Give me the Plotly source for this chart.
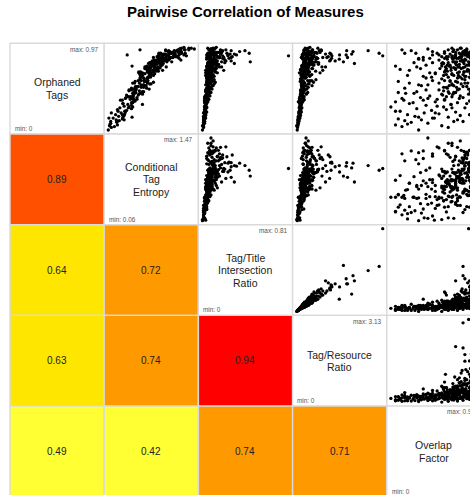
import plotly.graph_objects as go

# ---------------- data ----------------
measures = ["Orphaned Tags", "Conditional Tag Entropy", "Tag/Title Intersection Ratio",
            "Tag/Resource Ratio", "Overlap Factor"]
label_lines = [["Orphaned", "Tags"], ["Conditional", "Tag", "Entropy"],
               ["Tag/Title", "Intersection", "Ratio"], ["Tag/Resource", "Ratio"],
               ["Overlap", "Factor"]]
min_labels = ["0", "0.06", "0", "0", "0"]
max_labels = ["0.97", "1.47", "0.81", "3.13", "0.93"]
var_min = [0.0, 0.06, 0.0, 0.0, 0.0]
var_max = [0.97, 1.47, 0.81, 3.13, 0.93]

corr_row2 = [0.89]
corr_row3 = [0.64, 0.72]
corr_row4 = [0.63, 0.74, 0.94]
corr_row5 = [0.49, 0.42, 0.74, 0.71]

orphaned_tags = [
    0.00, 0.04, 0.05, 0.06, 0.08, 0.09, 0.10, 0.11, 0.12, 0.13,
    0.14, 0.15, 0.16, 0.17, 0.18, 0.19, 0.20, 0.21, 0.22, 0.23,
    0.24, 0.25, 0.26, 0.27, 0.28, 0.30, 0.31, 0.32, 0.33, 0.34,
    0.35, 0.36, 0.37, 0.38, 0.39, 0.40, 0.41, 0.42, 0.43, 0.44,
    0.45, 0.46, 0.47, 0.48, 0.49, 0.50, 0.51, 0.52, 0.53, 0.54,
    0.55, 0.56, 0.57, 0.58, 0.59, 0.33, 0.38, 0.44, 0.50, 0.56,
    0.36, 0.42, 0.48, 0.53, 0.58, 0.60, 0.61, 0.62, 0.62, 0.63,
    0.64, 0.65, 0.65, 0.66, 0.67, 0.68, 0.68, 0.69, 0.70, 0.70,
    0.71, 0.72, 0.72, 0.73, 0.74, 0.74, 0.75, 0.76, 0.76, 0.77,
    0.78, 0.78, 0.79, 0.80, 0.80, 0.81, 0.82, 0.82, 0.83, 0.84,
    0.84, 0.85, 0.86, 0.86, 0.87, 0.87, 0.88, 0.88, 0.89, 0.90,
    0.90, 0.91, 0.92, 0.92, 0.93, 0.94, 0.95, 0.96, 0.97, 0.95,
    0.64, 0.71, 0.79, 0.85, 0.90, 0.67, 0.75, 0.83, 0.93, 0.61,
    0.63, 0.66, 0.69, 0.71, 0.73, 0.75, 0.77, 0.79, 0.81, 0.83,
    0.85, 0.87, 0.89, 0.91, 0.68, 0.72, 0.76, 0.80, 0.84, 0.88,
    0.87, 0.80, 0.90, 0.93, 0.78, 0.85, 0.82, 0.90, 0.86, 0.70,
    0.88, 0.94, 0.75, 0.15, 0.30, 0.83, 0.89, 0.62, 0.64, 0.66,
    0.68, 0.70, 0.72, 0.74, 0.76, 0.78, 0.80, 0.82, 0.84, 0.86,
    0.88, 0.90, 0.92, 0.94, 0.96, 0.57, 0.55, 0.53, 0.51, 0.49,
    0.47, 0.45, 0.43, 0.41, 0.39, 0.37, 0.35, 0.26, 0.20, 0.12,
    0.58, 0.63, 0.67, 0.71, 0.74, 0.78, 0.81, 0.85, 0.89, 0.93,
    0.60, 0.65, 0.69, 0.72, 0.76, 0.79, 0.83, 0.86, 0.90, 0.94,
    0.61, 0.64, 0.68, 0.73, 0.77, 0.80, 0.84, 0.87, 0.91, 0.95,
    0.40, 0.44, 0.48, 0.52, 0.55, 0.58, 0.46, 0.50, 0.42, 0.54,
    0.03, 0.07, 0.10, 0.14, 0.18, 0.22, 0.27, 0.31, 0.35, 0.29,
    0.66, 0.72, 0.78, 0.84, 0.90, 0.70, 0.76, 0.82, 0.88, 0.94,
    0.74, 0.79, 0.83, 0.87, 0.91, 0.76, 0.81, 0.85, 0.89, 0.72,
    0.88, 0.92, 0.86, 0.94, 0.80, 0.90, 0.84, 0.96, 0.91, 0.87,
    0.32, 0.37, 0.43, 0.47, 0.52, 0.57, 0.62, 0.45, 0.39, 0.55,
    0.64, 0.69, 0.73, 0.77, 0.81, 0.85, 0.89, 0.93, 0.79, 0.83,
]
tag_entropy = [
    0.06, 0.16, 0.08, 0.21, 0.10, 0.20, 0.10, 0.24, 0.19, 0.29,
    0.07, 0.30, 0.23, 0.32, 0.18, 0.33, 0.11, 0.34, 0.33, 0.36,
    0.21, 0.44, 0.25, 0.46, 0.32, 0.38, 0.30, 0.44, 0.47, 0.50,
    0.26, 0.53, 0.46, 0.53, 0.46, 0.47, 0.36, 0.62, 0.46, 0.62,
    0.48, 0.57, 0.51, 0.73, 0.44, 0.60, 0.51, 0.60, 0.60, 0.76,
    0.46, 0.70, 0.65, 0.71, 0.58, 0.46, 0.35, 0.51, 0.64, 0.80,
    0.42, 0.48, 0.49, 0.64, 0.65, 0.65, 0.58, 0.72, 0.75, 0.74,
    0.62, 0.76, 0.74, 0.82, 0.56, 0.79, 0.59, 0.88, 0.74, 0.79,
    0.70, 0.85, 0.82, 0.91, 0.66, 0.87, 0.69, 0.94, 0.78, 0.93,
    0.82, 0.94, 0.76, 1.02, 0.88, 0.90, 0.81, 1.05, 0.89, 1.06,
    0.92, 1.00, 0.94, 1.18, 0.88, 1.13, 0.89, 0.99, 1.14, 1.15,
    0.89, 1.26, 1.04, 1.25, 1.05, 1.31, 1.23, 1.38, 1.30, 1.47,
    0.59, 0.83, 0.81, 1.12, 1.08, 0.76, 0.75, 1.03, 1.25, 0.70,
    0.60, 0.73, 0.73, 0.84, 0.75, 0.79, 0.78, 0.90, 0.94, 1.01,
    0.94, 1.05, 1.05, 1.15, 0.73, 0.71, 0.82, 0.88, 0.88, 1.22,
    0.95, 0.82, 0.92, 1.00, 0.72, 0.80, 1.25, 1.32, 1.20, 0.95,
    0.37, 0.58, 0.45, 0.45, 0.62, 1.00, 0.96, 0.71, 0.61, 0.76,
    0.56, 0.87, 0.69, 1.01, 0.76, 0.82, 0.86, 0.94, 0.93, 1.18,
    0.89, 1.24, 1.07, 1.32, 1.26, 0.67, 0.49, 0.64, 0.55, 0.69,
    0.40, 0.62, 0.47, 0.55, 0.39, 0.47, 0.29, 0.39, 0.27, 0.32,
    0.55, 0.74, 0.62, 0.86, 0.72, 0.96, 0.78, 1.10, 0.92, 1.18,
    0.70, 0.58, 0.84, 0.66, 0.92, 0.74, 1.06, 0.86, 1.22, 1.00,
    0.64, 0.80, 0.70, 0.76, 0.86, 0.82, 0.90, 1.02, 1.08, 1.24,
    0.46, 0.62, 0.52, 0.68, 0.57, 0.60, 0.40, 0.50, 0.56, 0.74,
    0.11, 0.09, 0.20, 0.14, 0.29, 0.22, 0.40, 0.30, 0.49, 0.44,
    0.66, 0.88, 0.78, 0.96, 1.10, 0.70, 0.92, 0.84, 1.16, 1.20,
    0.82, 0.94, 0.88, 1.04, 1.12, 0.80, 0.98, 0.90, 1.00, 0.75,
    1.30, 1.20, 1.16, 1.38, 1.10, 1.26, 1.22, 1.42, 1.12, 1.34,
    0.46, 0.34, 0.58, 0.44, 0.66, 0.50, 0.60, 0.64, 0.42, 0.70,
    0.60, 0.80, 0.74, 0.94, 0.84, 1.08, 0.98, 1.14, 0.76, 1.02,
]
title_ratio = [
    0.00, 0.01, 0.00, 0.01, 0.02, 0.01, 0.02, 0.01, 0.02, 0.02,
    0.03, 0.02, 0.01, 0.03, 0.02, 0.03, 0.02, 0.04, 0.02, 0.03,
    0.02, 0.03, 0.04, 0.03, 0.02, 0.03, 0.04, 0.02, 0.05, 0.03,
    0.04, 0.06, 0.03, 0.05, 0.04, 0.07, 0.03, 0.06, 0.05, 0.08,
    0.04, 0.06, 0.05, 0.09, 0.04, 0.07, 0.05, 0.10, 0.06, 0.08,
    0.05, 0.07, 0.09, 0.06, 0.11, 0.02, 0.03, 0.04, 0.06, 0.12,
    0.05, 0.04, 0.07, 0.05, 0.08, 0.05, 0.07, 0.04, 0.09, 0.06,
    0.08, 0.05, 0.10, 0.07, 0.04, 0.09, 0.06, 0.12, 0.05, 0.08,
    0.07, 0.11, 0.06, 0.09, 0.04, 0.13, 0.07, 0.10, 0.05, 0.15,
    0.08, 0.12, 0.06, 0.18, 0.09, 0.14, 0.07, 0.21, 0.10, 0.25,
    0.08, 0.16, 0.11, 0.28, 0.06, 0.19, 0.13, 0.32, 0.09, 0.23,
    0.12, 0.15, 0.35, 0.10, 0.27, 0.17, 0.08, 0.05, 0.13, 0.08,
    0.03, 0.04, 0.05, 0.04, 0.06, 0.03, 0.05, 0.04, 0.07, 0.04,
    0.05, 0.06, 0.04, 0.07, 0.05, 0.08, 0.06, 0.09, 0.07, 0.10,
    0.06, 0.11, 0.08, 0.14, 0.06, 0.05, 0.07, 0.11, 0.08, 0.10,
    0.81, 0.45, 0.44, 0.40, 0.30, 0.27, 0.12, 0.10, 0.16, 0.20,
    0.05, 0.07, 0.04, 0.02, 0.03, 0.12, 0.17, 0.06, 0.04, 0.08,
    0.05, 0.09, 0.06, 0.10, 0.07, 0.13, 0.06, 0.09, 0.20, 0.07,
    0.24, 0.11, 0.09, 0.22, 0.12, 0.04, 0.06, 0.03, 0.05, 0.04,
    0.06, 0.03, 0.05, 0.04, 0.02, 0.03, 0.02, 0.02, 0.01, 0.01,
    0.07, 0.11, 0.14, 0.09, 0.18, 0.12, 0.22, 0.16, 0.26, 0.19,
    0.04, 0.08, 0.06, 0.13, 0.05, 0.10, 0.08, 0.14, 0.07, 0.11,
    0.09, 0.05, 0.12, 0.07, 0.15, 0.09, 0.19, 0.06, 0.13, 0.10,
    0.04, 0.07, 0.05, 0.09, 0.06, 0.10, 0.03, 0.08, 0.05, 0.11,
    0.01, 0.01, 0.02, 0.01, 0.03, 0.02, 0.04, 0.03, 0.05, 0.03,
    0.04, 0.06, 0.05, 0.07, 0.05, 0.03, 0.06, 0.08, 0.04, 0.06,
    0.16, 0.21, 0.12, 0.24, 0.18, 0.14, 0.27, 0.20, 0.30, 0.11,
    0.06, 0.09, 0.14, 0.08, 0.11, 0.07, 0.05, 0.10, 0.18, 0.08,
    0.03, 0.02, 0.04, 0.03, 0.05, 0.04, 0.06, 0.05, 0.03, 0.04,
    0.06, 0.09, 0.07, 0.12, 0.08, 0.15, 0.10, 0.17, 0.13, 0.09,
]
resource_ratio = [
    0.02, 0.03, 0.00, 0.05, 0.06, 0.04, 0.08, 0.05, 0.09, 0.07,
    0.12, 0.10, 0.06, 0.14, 0.09, 0.13, 0.11, 0.17, 0.10, 0.15,
    0.12, 0.16, 0.19, 0.14, 0.11, 0.15, 0.18, 0.11, 0.22, 0.17,
    0.26, 0.20, 0.16, 0.21, 0.27, 0.22, 0.16, 0.35, 0.18, 0.40,
    0.27, 0.23, 0.28, 0.34, 0.25, 0.23, 0.26, 0.56, 0.23, 0.41,
    0.29, 0.26, 0.47, 0.23, 0.70, 0.06, 0.13, 0.21, 0.20, 0.61,
    0.27, 0.14, 0.37, 0.17, 0.55, 0.17, 0.30, 0.23, 0.34, 0.31,
    0.47, 0.17, 0.55, 0.28, 0.27, 0.28, 0.26, 0.69, 0.18, 0.42,
    0.40, 0.39, 0.31, 0.37, 0.28, 0.42, 0.34, 0.59, 0.20, 0.79,
    0.48, 0.44, 0.33, 0.72, 0.57, 0.46, 0.32, 1.23, 0.39, 1.27,
    0.47, 0.59, 0.60, 1.15, 0.42, 0.63, 0.62, 1.80, 0.35, 1.21,
    0.74, 0.53, 2.05, 0.40, 1.82, 0.56, 0.40, 0.31, 0.48, 0.34,
    0.20, 0.14, 0.25, 0.17, 0.36, 0.10, 0.21, 0.23, 0.26, 0.19,
    0.30, 0.22, 0.24, 0.30, 0.36, 0.27, 0.28, 0.56, 0.26, 0.56,
    0.38, 0.40, 0.44, 0.56, 0.43, 0.17, 0.36, 0.68, 0.32, 0.51,
    3.13, 1.70, 3.00, 2.60, 2.10, 1.85, 0.50, 0.42, 0.55, 0.95,
    0.20, 0.30, 0.18, 0.08, 0.12, 1.55, 2.00, 0.34, 0.16, 0.39,
    0.31, 0.33, 0.32, 0.39, 0.46, 0.44, 0.29, 0.54, 0.76, 0.37,
    1.56, 0.38, 0.48, 0.89, 0.77, 0.13, 0.28, 0.20, 0.18, 0.20,
    0.26, 0.15, 0.22, 0.17, 0.12, 0.14, 0.10, 0.09, 0.07, 0.04,
    0.40, 0.48, 0.85, 0.38, 1.05, 0.55, 1.20, 0.95, 1.25, 0.82,
    0.14, 0.42, 0.22, 0.55, 0.28, 0.36, 0.48, 0.62, 0.26, 0.58,
    0.32, 0.30, 0.47, 0.42, 0.62, 0.52, 0.76, 0.24, 0.70, 0.38,
    0.22, 0.25, 0.30, 0.34, 0.20, 0.48, 0.15, 0.42, 0.18, 0.45,
    0.03, 0.05, 0.07, 0.05, 0.10, 0.09, 0.15, 0.13, 0.19, 0.16,
    0.18, 0.22, 0.26, 0.30, 0.24, 0.15, 0.29, 0.33, 0.21, 0.27,
    0.92, 0.80, 0.70, 1.28, 0.65, 0.62, 1.40, 1.10, 1.05, 0.58,
    0.24, 0.44, 0.60, 0.32, 0.50, 0.30, 0.22, 0.42, 0.85, 0.36,
    0.11, 0.10, 0.15, 0.14, 0.20, 0.19, 0.25, 0.22, 0.13, 0.17,
    0.21, 0.40, 0.36, 0.45, 0.47, 0.72, 0.38, 0.90, 0.52, 0.49,
]
overlap_factor = [
    0.30, 0.12, 0.55, 0.05, 0.40, 0.22, 0.68, 0.15, 0.33, 0.08,
    0.47, 0.62, 0.26, 0.75, 0.18, 0.52, 0.36, 0.70, 0.10, 0.44,
    0.60, 0.28, 0.80, 0.00, 0.50, 0.65, 0.20, 0.72, 0.48, 0.85,
    0.35, 0.58, 0.12, 0.78, 0.66, 0.42, 0.88, 0.55, 0.25, 0.70,
    0.62, 0.90, 0.38, 0.74, 0.15, 0.57, 0.82, 0.68, 0.30, 0.76,
    0.52, 0.87, 0.64, 0.45, 0.80, 0.05, 0.32, 0.08, 0.60, 0.72,
    0.50, 0.67, 0.84, 0.40, 0.58, 0.55, 0.72, 0.62, 0.85, 0.35,
    0.68, 0.78, 0.60, 0.90, 0.48, 0.74, 0.58, 0.82, 0.65, 0.88,
    0.70, 0.76, 0.53, 0.92, 0.28, 0.80, 0.63, 0.86, 0.71, 0.90,
    0.57, 0.79, 0.45, 0.84, 0.67, 0.75, 0.88, 0.81, 0.61, 0.86,
    0.73, 0.92, 0.55, 0.83, 0.69, 0.77, 0.89, 0.80, 0.64, 0.91,
    0.74, 0.85, 0.78, 0.58, 0.87, 0.72, 0.82, 0.66, 0.93, 0.40,
    0.18, 0.10, 0.25, 0.35, 0.15, 0.42, 0.05, 0.30, 0.22, 0.38,
    0.80, 0.86, 0.61, 0.83, 0.68, 0.89, 0.74, 0.56, 0.79, 0.90,
    0.66, 0.84, 0.76, 0.70, 0.92, 0.60, 0.64, 0.87, 0.71, 0.81,
    0.84, 0.93, 0.78, 0.88, 0.70, 0.93, 0.35, 0.50, 0.60, 0.86,
    0.70, 0.82, 0.55, 0.30, 0.65, 0.80, 0.90, 0.75, 0.57, 0.66,
    0.79, 0.59, 0.87, 0.73, 0.61, 0.91, 0.69, 0.77, 0.88, 0.62,
    0.85, 0.79, 0.67, 0.90, 0.76, 0.70, 0.83, 0.66, 0.78, 0.61,
    0.72, 0.86, 0.63, 0.56, 0.92, 0.74, 0.58, 0.66, 0.48, 0.72,
    0.64, 0.81, 0.72, 0.88, 0.59, 0.85, 0.77, 0.69, 0.91, 0.80,
    0.77, 0.66, 0.93, 0.70, 0.84, 0.62, 0.90, 0.75, 0.83, 0.68,
    0.86, 0.73, 0.79, 0.65, 0.92, 0.71, 0.58, 0.87, 0.78, 0.89,
    0.75, 0.68, 0.89, 0.63, 0.80, 0.92, 0.57, 0.71, 0.84, 0.66,
    0.62, 0.18, 0.78, 0.45, 0.85, 0.05, 0.57, 0.82, 0.14, 0.38,
    0.48, 0.32, 0.55, 0.42, 0.27, 0.20, 0.38, 0.52, 0.45, 0.12,
    0.74, 0.86, 0.67, 0.90, 0.79, 0.82, 0.88, 0.76, 0.85, 0.70,
    0.52, 0.45, 0.70, 0.62, 0.78, 0.58, 0.30, 0.75, 0.82, 0.66,
    0.24, 0.40, 0.16, 0.52, 0.33, 0.08, 0.44, 0.28, 0.60, 0.20,
    0.90, 0.84, 0.78, 0.86, 0.92, 0.74, 0.87, 0.80, 0.89, 0.93,
]

series = [orphaned_tags, tag_entropy, title_ratio, resource_ratio, overlap_factor]
corr_rows = [[], corr_row2, corr_row3, corr_row4, corr_row5]

# ---------------- layout helpers ----------------
W, H = 470, 495
GX0, GY0 = 10.0, 43.3
CW, CH = 94.2, 90.7
N = 5
FONT = "Liberation Sans, Arial, Helvetica, sans-serif"


def px(x):
    return x / W


def py(y):
    return 1 - y / H


def cell_color(r):
    if r >= 0.9:
        return "#ff0000"
    if r >= 0.8:
        return "#ff5000"
    if r >= 0.7:
        return "#ff9900"
    if r >= 0.6:
        return "#ffe600"
    if r >= 0.5:
        return "#fff200"
    return "#ffff33"


fig = go.Figure()
shapes = []
annotations = []
layout_axes = {}

annotations.append(dict(
    x=px(245.5), y=py(11.5), xref="paper", yref="paper",
    text="<b>Pairwise Correlation of Measures</b>", showarrow=False,
    xanchor="center", yanchor="middle",
    font=dict(family=FONT, size=15, color="#000000")))

k = 0
for i in range(N):
    for j in range(N):
        x0 = GX0 + j * CW
        x1 = x0 + CW
        y0 = GY0 + i * CH
        y1 = y0 + CH
        if i > j:
            fill = cell_color(corr_rows[i][j])
        else:
            fill = "#ffffff"
        shapes.append(dict(type="rect", xref="paper", yref="paper",
                           x0=px(x0), x1=px(x1), y0=py(y1), y1=py(y0),
                           fillcolor=fill, line=dict(color="#dadada", width=1.4),
                           layer="below"))
        cx = (x0 + x1) / 2
        cy = (y0 + y1) / 2
        if i > j:
            annotations.append(dict(
                x=px(cx), y=py(cy), xref="paper", yref="paper",
                text=f"{corr_rows[i][j]:.2f}", showarrow=False,
                xanchor="center", yanchor="middle",
                font=dict(family=FONT, size=10, color="#222222")))
        elif i == j:
            lines = label_lines[i]
            L = len(lines)
            for li, t in enumerate(lines):
                ly = cy + (li - (L - 1) / 2) * 12.5
                annotations.append(dict(
                    x=px(cx), y=py(ly), xref="paper", yref="paper",
                    text=t, showarrow=False, xanchor="center", yanchor="middle",
                    font=dict(family=FONT, size=10.5, color="#222222")))
            annotations.append(dict(
                x=px(x1 - 3.0), y=py(y0 + 5.8), xref="paper", yref="paper",
                text="max: " + max_labels[i], showarrow=False,
                xanchor="right", yanchor="middle",
                font=dict(family=FONT, size=6.4, color="#555555")))
            annotations.append(dict(
                x=px(x0 + 2.8), y=py(y1 - 5.5), xref="paper", yref="paper",
                text="min: " + min_labels[i], showarrow=False,
                xanchor="left", yanchor="middle",
                font=dict(family=FONT, size=6.4, color="#555555")))
        else:
            k += 1
            xa = "xaxis" if k == 1 else f"xaxis{k}"
            ya = "yaxis" if k == 1 else f"yaxis{k}"
            xr = "x" if k == 1 else f"x{k}"
            yr = "y" if k == 1 else f"y{k}"
            dx0, dx1 = x0 + 1.5, x1 - 1.5
            dy0, dy1 = y0 + 1.5, y1 - 1.5
            padx = 0.03 * (var_max[j] - var_min[j])
            lo, hi = var_min[j] - padx, var_max[j] + padx
            vis_x1 = min(dx1, W)
            frac = (vis_x1 - dx0) / (dx1 - dx0)
            xrange = [lo, lo + frac * (hi - lo)]
            pady = 0.03 * (var_max[i] - var_min[i])
            yrange = [var_min[i] - pady, var_max[i] + pady]
            layout_axes[xa] = dict(domain=[px(dx0), px(vis_x1)], range=xrange,
                                   anchor=yr, visible=False, fixedrange=True)
            layout_axes[ya] = dict(domain=[py(dy1), py(dy0)], range=yrange,
                                   anchor=xr, visible=False, fixedrange=True)
            fig.add_trace(go.Scatter(
                x=series[j], y=series[i], mode="markers",
                marker=dict(size=3.3, color="#000000", line=dict(width=0)),
                xaxis=xr, yaxis=yr, hoverinfo="skip", showlegend=False,
                cliponaxis=True))

fig.update_layout(
    width=W, height=H, autosize=False,
    margin=dict(l=0, r=0, t=0, b=0, pad=0),
    paper_bgcolor="#ffffff", plot_bgcolor="rgba(0,0,0,0)",
    shapes=shapes, annotations=annotations, showlegend=False,
    **layout_axes)

fig.write_html("out.html", config={"displayModeBar": False},
               post_script="document.body.style.margin='0';document.body.style.overflow='hidden';")
